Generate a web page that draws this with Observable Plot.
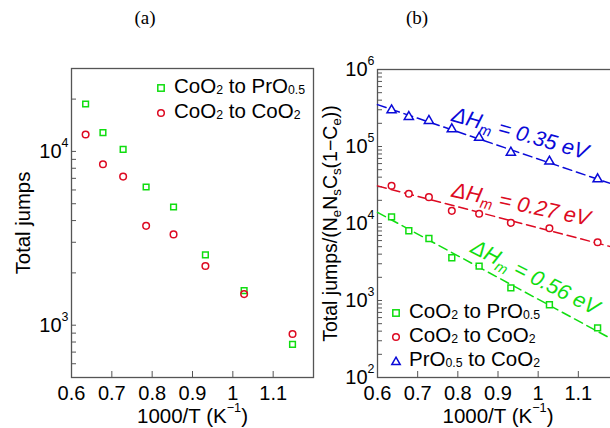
<!DOCTYPE html>
<html><head><meta charset="utf-8">
<script src="https://cdn.jsdelivr.net/npm/d3@7"></script>
<script src="https://cdn.jsdelivr.net/npm/@observablehq/plot@0.6"></script>
<style>
html,body{margin:0;padding:0;background:#fff;overflow:hidden}
#root{position:relative;width:610px;height:428px;overflow:hidden;background:#fff;font-family:"Liberation Sans",Arial,sans-serif;color:#000}
.panel{position:absolute;top:0}
.cap{position:absolute;font-family:"Liberation Serif","Times New Roman",serif;font-size:19px;transform:translate(-50%,-50%);white-space:nowrap}
.leg{position:absolute;font-size:20.5px;line-height:24px;white-space:nowrap}
.leg svg{vertical-align:middle;overflow:visible}
.s{font-size:0.6em;position:relative;top:0.12em}
</style>
</head><body>
<div id="root">
  <div class="cap" style="left:145px;top:18px">(a)</div>
  <div class="cap" style="left:417px;top:18px">(b)</div>
  <div class="panel" id="pa" style="left:0px;width:320px"></div>
  <div class="panel" id="pb" style="left:310px;width:310px"></div>
  <div class="leg" style="left:156px;top:74px"><svg width="10" height="10"><rect x="1.8" y="1.8" width="6.4" height="6.4" fill="none" stroke="#10dd10" stroke-width="1.5"/></svg><span style="margin-left:8px">CoO<span class="s">2</span> to PrO<span class="s">0.5</span></span></div>
  <div class="leg" style="left:156px;top:99px"><svg width="10" height="10"><circle cx="5" cy="5" r="3.3" fill="none" stroke="#dd0a22" stroke-width="1.5"/></svg><span style="margin-left:8px">CoO<span class="s">2</span> to CoO<span class="s">2</span></span></div>
  <div class="leg" style="left:391px;top:299px"><svg width="10" height="10"><rect x="1.8" y="1.8" width="6.4" height="6.4" fill="none" stroke="#10dd10" stroke-width="1.5"/></svg><span style="margin-left:8px">CoO<span class="s">2</span> to PrO<span class="s">0.5</span></span></div>
  <div class="leg" style="left:391px;top:323px"><svg width="10" height="10"><circle cx="5" cy="5" r="3.3" fill="none" stroke="#dd0a22" stroke-width="1.5"/></svg><span style="margin-left:8px">CoO<span class="s">2</span> to CoO<span class="s">2</span></span></div>
  <div class="leg" style="left:391px;top:347px"><svg width="10" height="10"><path d="M5,1.2L9.2,8.6L0.8,8.6Z" fill="none" stroke="#0a0ad8" stroke-width="1.5"/></svg><span style="margin-left:8px">PrO<span class="s">0.5</span> to CoO<span class="s">2</span></span></div>
</div>
<script>
// ---- data ----
const invT = [0.635, 0.678, 0.728, 0.785, 0.853, 0.932, 1.028, 1.148]; // 1000/T (1/K)
// (a) total jumps
const jumpsCoPr = [18750, 12840, 10270, 6240, 4790, 2540, 1580, 776];
const jumpsCoCo = [12500, 8440, 7160, 3730, 3330, 2190, 1510, 890];
// (b) normalised jumps
const normCoPr = [12200, 8040, 6380, 3590, 2790, 1460, 880, 442];
const normCoCo = [30900, 24300, 22000, 14600, 13400, 10200, 8680, 5710];
const normPrCo = [296000, 243000, 216000, 168000, 130000, 83600, 63900, 37700];
// fitted Arrhenius lines (end points)
const fitX = [0.6, 1.2];
const fitCoPr = [13970, 283];
const fitCoCo = [30800, 4710];
const fitPrCo = [350000, 30500];
// annotations
const annText = ["ΔH_{m} = 0.35 eV", "ΔH_{m} = 0.27 eV", "ΔH_{m} = 0.56 eV"];
const annX = [0.955, 0.9575, 0.9925];
const annY = [147600, 17660, 1990];
const annAngle = [16, 12, 27];
// ticks
const xTicks = [0.6, 0.7, 0.8, 0.9, 1.0, 1.1];
const yMajorA = [1000, 10000];
const yMinorA = [600, 700, 800, 900, 1000, 2000, 3000, 4000, 5000, 6000, 7000, 8000, 9000, 10000, 20000, 30000];
const yMajorB = [100, 1000, 10000, 100000, 1000000];
const yMinorB = [200, 300, 400, 500, 600, 700, 800, 900, 1000, 2000, 3000, 4000, 5000, 6000, 7000, 8000, 9000,
  10000, 20000, 30000, 40000, 50000, 60000, 70000, 80000, 90000, 100000, 200000, 300000, 400000, 500000,
  600000, 700000, 800000, 900000];

const GREEN = "#10dd10", RED = "#dd0a22", BLUE = "#0a0ad8", AX = "#555";
const style = {fontFamily: "Liberation Sans, Arial, sans-serif", fontSize: "20px", background: "transparent", overflow: "visible", maxWidth: "none", color: "#000"};
const fmtX = d => String(+d.toFixed(1));
const fmtY = d => `10^{${Math.round(Math.log10(d))}}`;

function rich(root) {
  const ns = "http://www.w3.org/2000/svg";
  root.querySelectorAll("text").forEach(t => {
    const s = t.textContent;
    if (!/[\^_]\{/.test(s)) return;
    const fs = parseFloat(getComputedStyle(t).fontSize) || 20;
    while (t.firstChild) t.removeChild(t.firstChild);
    let cur = 0, last = 0, m;
    const add = (str, off, size) => {
      const sp = document.createElementNS(ns, "tspan");
      const dy = off - cur;
      if (dy) sp.setAttribute("dy", dy);
      if (size) sp.setAttribute("font-size", size);
      sp.textContent = str; t.appendChild(sp); cur = off;
    };
    const re = /([\^_])\{([^}]*)\}/g;
    while ((m = re.exec(s))) {
      if (m.index > last) add(s.slice(last, m.index), 0);
      const sup = m[1] === "^";
      add(m[2], sup ? -fs * 0.55 : fs * 0.22, fs * (sup ? 0.62 : 0.68));
      last = re.lastIndex;
    }
    if (last < s.length) add(s.slice(last), 0);
  });
}

const pa = Plot.plot({
  width: 320, height: 428, marginLeft: 71, marginRight: 7, marginTop: 68, marginBottom: 51,
  x: {domain: [0.6, 1.2]},
  y: {type: "log", domain: [500, 30000]},
  style,
  marks: [
    Plot.frame({stroke: AX, strokeWidth: 1.3}),
    Plot.tickX(xTicks.slice(1), {x: d => d, insetTop: 303, stroke: AX}),
    Plot.tickY(yMinorA, {y: d => d, insetRight: 237, stroke: AX}),
    Plot.axisX(xTicks, {anchor: "bottom", tickSize: 0, tickPadding: 8, tickFormat: fmtX, fontSize: 20, label: null}),
    Plot.axisY(yMajorA, {anchor: "left", tickSize: 0, tickPadding: 3, tickFormat: fmtY, fontSize: 20, label: null}),
    Plot.dot(invT, {x: d => d, y: (d, i) => jumpsCoPr[i], symbol: "square", r: 3.2, stroke: GREEN, strokeWidth: 1.5}),
    Plot.dot(invT, {x: d => d, y: (d, i) => jumpsCoCo[i], symbol: "circle", r: 3.3, stroke: RED, strokeWidth: 1.5}),
    Plot.text(["Total jumps"], {text: d => d, frameAnchor: "left", dx: -48, rotate: -90, fontSize: 20.3, textAnchor: "middle", lineAnchor: "middle"}),
    Plot.text(["1000/T (K^{−1})"], {text: d => d, frameAnchor: "bottom", dy: 39, fontSize: 20.5, textAnchor: "middle", lineAnchor: "middle"})
  ]
});
document.getElementById("pa").appendChild(pa);
rich(pa);

const pb = Plot.plot({
  width: 310, height: 428, marginLeft: 67, marginRight: 2, marginTop: 69, marginBottom: 51,
  x: {domain: [0.6, 1.2]},
  y: {type: "log", domain: [100, 1000000]},
  style,
  marks: [
    Plot.frame({stroke: AX, strokeWidth: 1.3}),
    Plot.tickX(xTicks.slice(1), {x: d => d, insetTop: 302, stroke: AX}),
    Plot.tickY(yMinorB, {y: d => d, insetRight: 236, stroke: AX}),
    Plot.axisX(xTicks, {anchor: "bottom", tickSize: 0, tickPadding: 8, tickFormat: fmtX, fontSize: 20, label: null}),
    Plot.axisY(yMajorB, {anchor: "left", tickSize: 0, tickPadding: 3, tickFormat: fmtY, fontSize: 20, label: null}),
    Plot.line(fitX, {x: d => d, y: (d, i) => fitPrCo[i], stroke: BLUE, strokeWidth: 1.5, strokeDasharray: "9,5"}),
    Plot.line(fitX, {x: d => d, y: (d, i) => fitCoCo[i], stroke: RED, strokeWidth: 1.5, strokeDasharray: "9,5"}),
    Plot.line(fitX, {x: d => d, y: (d, i) => fitCoPr[i], stroke: GREEN, strokeWidth: 1.5, strokeDasharray: "9,5"}),
    Plot.dot(invT, {x: d => d, y: (d, i) => normCoPr[i], symbol: "square", r: 3.3, stroke: GREEN, strokeWidth: 1.5, fill: "white"}),
    Plot.dot(invT, {x: d => d, y: (d, i) => normCoCo[i], symbol: "circle", r: 3.3, stroke: RED, strokeWidth: 1.5, fill: "white"}),
    Plot.dot(invT, {x: d => d, y: (d, i) => normPrCo[i], symbol: "triangle", r: 3.4, stroke: BLUE, strokeWidth: 1.5, fill: "white"}),
    Plot.text(annText, {text: d => d, x: (d, i) => annX[i], y: (d, i) => annY[i], rotate: (d, i) => annAngle[i],
      fill: (d, i) => [BLUE, RED, GREEN][i], fontSize: 21.5, fontStyle: "italic", textAnchor: "middle", lineAnchor: "middle"}),
    Plot.text(["Total jumps/(N_{e}N_{s}C_{s}(1−C_{e}))"], {text: d => d, frameAnchor: "left", dx: -47, rotate: -90, fontSize: 19.5, textAnchor: "middle", lineAnchor: "middle"}),
    Plot.text(["1000/T (K^{−1})"], {text: d => d, frameAnchor: "bottom", dy: 39, fontSize: 20.5, textAnchor: "middle", lineAnchor: "middle"})
  ]
});
document.getElementById("pb").appendChild(pb);
rich(pb);
</script>
</body></html>
